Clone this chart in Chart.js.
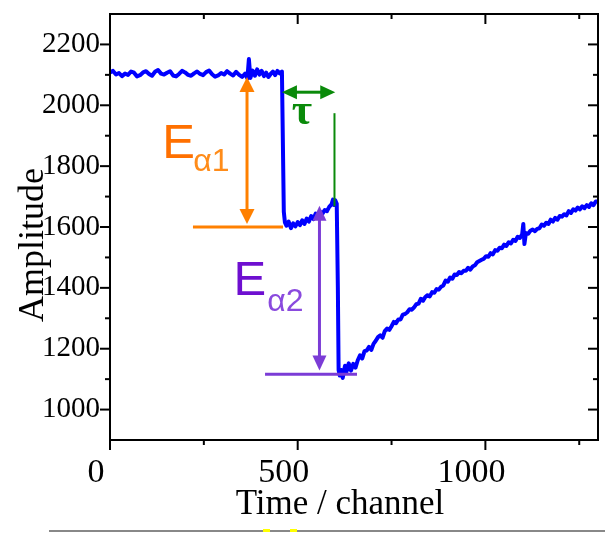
<!DOCTYPE html>
<html>
<head>
<meta charset="utf-8">
<script src="https://cdn.jsdelivr.net/npm/chart.js@4/dist/chart.umd.min.js"></script>
<style>
    body { margin: 0; background: #fff; }
    #wrap { position: relative; width: 605px; height: 533px; }
    .strip { position: absolute; top: 530px; left: 49px; width: 556px; height: 2px; background: #888; }
    .mark { position: absolute; top: 529px; width: 7px; height: 3px; background: #ffff00; }
</style>
</head>
<body>
<div id="wrap">
    <canvas id="signalChart" width="605" height="533"></canvas>
    <div class="strip"></div>
    <div class="mark" style="left:263px"></div>
    <div class="mark" style="left:290px"></div>
</div>
<script>
    const timeCh = [
        0, 8, 16, 24, 32, 40, 48, 56, 64, 72, 80, 88, 96, 104, 112, 120, 128, 136, 144, 152,
        160, 168, 176, 184, 192, 200, 208, 216, 224, 232, 240, 248, 256, 264, 272, 280, 288, 296, 304, 312,
        320, 328, 336, 344, 352, 360, 366, 370, 374, 380, 386, 392, 398, 404, 410, 416, 422, 428, 434, 440,
        446, 452, 458, 463, 466,
        470, 476, 482, 488, 494, 500, 506, 512, 518, 524, 530, 536, 542, 548, 554, 560, 566, 572, 578, 584,
        590, 594, 597, 600, 604, 607, 609,
        612, 616, 620, 626, 630, 636, 642, 648, 654, 660, 666, 672, 678, 684, 690, 696, 702, 708, 714, 720,
        726, 732, 738, 744, 750, 756, 762, 768, 774, 780, 786, 792, 798, 804, 810, 816, 822, 828, 834, 840,
        846, 852, 858, 864, 870, 876, 882, 888, 894, 900, 906, 912, 918, 924, 930, 936, 942, 948, 954, 960,
        966, 972, 978, 984, 990, 996, 1002, 1008, 1014, 1020, 1026, 1032, 1038, 1044, 1050, 1056, 1062, 1068, 1074, 1080,
        1086, 1092, 1098, 1101, 1104, 1108, 1114, 1120, 1126, 1132, 1138, 1144, 1150, 1156, 1162, 1168, 1174, 1180, 1186, 1192,
        1198, 1204, 1210, 1216, 1222, 1228, 1234, 1240, 1246, 1252, 1258, 1264, 1270, 1276, 1282, 1288, 1294, 1300
    ];
    const amplitude = [
        2108, 2113, 2101, 2106, 2096, 2104, 2100, 2111, 2107, 2095, 2099, 2108, 2112, 2103, 2097, 2110, 2116, 2104, 2101, 2107,
        2112, 2098, 2095, 2103, 2113, 2108, 2100, 2097, 2105, 2111, 2103, 2099, 2109, 2114, 2102, 2094, 2098, 2106, 2101, 2112,
        2104, 2098, 2110, 2100, 2093, 2104, 2088, 2152, 2090, 2114, 2097, 2118, 2101, 2113, 2096, 2107, 2093, 2103, 2111, 2099,
        2113, 2105, 2111, 1650, 1615,
        1604, 1618, 1596, 1612, 1602, 1616, 1606, 1622, 1610, 1628, 1618, 1636, 1626, 1644, 1638, 1650, 1644, 1656, 1652, 1666,
        1674, 1690, 1672, 1688, 1676, 1400, 1130,
        1112, 1130, 1104, 1144, 1124, 1152, 1128, 1150, 1138, 1162, 1178, 1168, 1192, 1194, 1206, 1196, 1216, 1226, 1238, 1244,
        1236, 1258, 1266, 1262, 1274, 1288, 1284, 1296, 1296, 1312, 1314, 1320, 1330, 1328, 1336, 1346, 1348, 1364, 1358, 1370,
        1376, 1372, 1386, 1384, 1396, 1394, 1404, 1408, 1424, 1420, 1434, 1430, 1444, 1442, 1452, 1448, 1456, 1456, 1466, 1460,
        1470, 1474, 1484, 1488, 1492, 1496, 1504, 1502, 1514, 1510, 1524, 1522, 1532, 1530, 1542, 1538, 1550, 1546, 1558, 1554,
        1568, 1564, 1576, 1610, 1544, 1580, 1578, 1588, 1592, 1586, 1594, 1596, 1608, 1604, 1614, 1610, 1624, 1618, 1630, 1624,
        1636, 1634, 1642, 1638, 1652, 1646, 1658, 1654, 1664, 1658, 1668, 1662, 1672, 1666, 1678, 1672, 1684, 1684
    ];

    const xMajor = [0, 500, 1000];
    const xMinor = [250, 750, 1250];
    const yMajor = [1000, 1200, 1400, 1600, 1800, 2000, 2200];
    const yMinor = [1100, 1300, 1500, 1700, 1900, 2100];

    const serif = '"Liberation Serif", "Times New Roman", serif';
    const sans = '"Liberation Sans", Arial, sans-serif';

    function line(ctx, x0, y0, x1, y1) {
        ctx.beginPath();
        ctx.moveTo(x0, y0);
        ctx.lineTo(x1, y1);
        ctx.stroke();
    }

    // filled triangle head, tip at (tx, ty), pointing along (dx, dy)
    function head(ctx, tx, ty, dx, dy, len, half) {
        const nx = -dy, ny = dx;
        ctx.beginPath();
        ctx.moveTo(tx, ty);
        ctx.lineTo(tx - dx * len + nx * half, ty - dy * len + ny * half);
        ctx.lineTo(tx - dx * len - nx * half, ty - dy * len - ny * half);
        ctx.closePath();
        ctx.fill();
    }

    const frame = {
        id: 'frame',
        afterDraw(chart) {
            const { ctx, chartArea: a, scales: { x, y } } = chart;
            ctx.save();
            ctx.strokeStyle = '#000';
            ctx.lineWidth = 2;
            ctx.strokeRect(a.left, a.top, a.right - a.left, a.bottom - a.top);
            xMajor.forEach(v => {
                const p = x.getPixelForValue(v);
                line(ctx, p, a.bottom, p, a.bottom + 10);
                line(ctx, p, a.top, p, a.top + 10);
            });
            xMinor.forEach(v => {
                const p = x.getPixelForValue(v);
                line(ctx, p, a.bottom, p, a.bottom + 5);
                line(ctx, p, a.top, p, a.top + 5);
            });
            yMajor.forEach(v => {
                const p = y.getPixelForValue(v);
                line(ctx, a.left - 10, p, a.left, p);
                line(ctx, a.right - 10, p, a.right, p);
            });
            yMinor.forEach(v => {
                const p = y.getPixelForValue(v);
                line(ctx, a.left - 5, p, a.left, p);
                line(ctx, a.right - 5, p, a.right, p);
            });

            // axis titles
            ctx.fillStyle = '#000';
            ctx.font = '35px ' + serif;
            ctx.textAlign = 'center';
            ctx.textBaseline = 'alphabetic';
            ctx.fillText('Time / channel', 340, 514);
            ctx.translate(43, 245);
            ctx.rotate(-Math.PI / 2);
            ctx.font = '36px ' + serif;
            ctx.fillText('Amplitude', 0, 0);
            ctx.restore();
        }
    };

    const notes = {
        id: 'notes',
        afterDatasetsDraw(chart) {
            const { ctx, scales: { x, y } } = chart;
            ctx.save();
            ctx.lineCap = 'butt';

            // E alpha 1 (orange)
            ctx.strokeStyle = '#ff8000';
            ctx.fillStyle = '#ff8000';
            ctx.lineWidth = 3;
            line(ctx, x.getPixelForValue(221), y.getPixelForValue(1600), x.getPixelForValue(461), y.getPixelForValue(1600));
            let px = x.getPixelForValue(365), top = y.getPixelForValue(2093), bot = y.getPixelForValue(1610);
            line(ctx, px, top + 12, px, bot - 12);
            head(ctx, px, top, 0, -1, 15, 7.5);
            head(ctx, px, bot, 0, 1, 15, 7.5);

            // tau (green)
            ctx.strokeStyle = '#0a8a0a';
            ctx.fillStyle = '#0a8a0a';
            let py = y.getPixelForValue(2043), l = x.getPixelForValue(458), r = x.getPixelForValue(600);
            line(ctx, l + 12, py, r - 12, py);
            head(ctx, l, py, -1, 0, 15, 7);
            head(ctx, r, py, 1, 0, 15, 7);
            ctx.lineWidth = 2;
            line(ctx, x.getPixelForValue(598), y.getPixelForValue(1974), x.getPixelForValue(598), y.getPixelForValue(1668));
            ctx.font = 'bold 44px ' + serif;
            ctx.textAlign = 'center';
            ctx.fillText('τ', x.getPixelForValue(511), y.getPixelForValue(1938));

            // E alpha 2 (purple)
            ctx.strokeStyle = '#7b3cd6';
            ctx.fillStyle = '#7b3cd6';
            ctx.lineWidth = 3;
            line(ctx, x.getPixelForValue(413), y.getPixelForValue(1116), x.getPixelForValue(658), y.getPixelForValue(1116));
            px = x.getPixelForValue(558); top = y.getPixelForValue(1670); bot = y.getPixelForValue(1128);
            line(ctx, px, top + 12, px, bot - 12);
            head(ctx, px, top, 0, -1, 15, 7);
            head(ctx, px, bot, 0, 1, 15, 7);

            // labels
            ctx.textAlign = 'left';
            ctx.textBaseline = 'alphabetic';
            ctx.font = '49px ' + sans;
            ctx.fillStyle = '#ff7000';
            ctx.fillText('E', x.getPixelForValue(139), y.getPixelForValue(1828));
            ctx.fillStyle = '#6e0fd0';
            ctx.fillText('E', x.getPixelForValue(329), y.getPixelForValue(1378));
            ctx.font = '32px ' + sans;
            ctx.fillStyle = '#ff8c1a';
            ctx.fillText('α1', x.getPixelForValue(222), y.getPixelForValue(1783));
            ctx.fillStyle = '#8a4ade';
            ctx.fillText('α2', x.getPixelForValue(419), y.getPixelForValue(1325));
            ctx.restore();
        }
    };

    new Chart(document.getElementById('signalChart'), {
        type: 'line',
        data: {
            datasets: [{
                data: timeCh.map((t, i) => ({ x: t, y: amplitude[i] })),
                borderColor: '#0000ff',
                borderWidth: 4,
                pointRadius: 0,
                tension: 0,
                borderJoinStyle: 'round'
            }]
        },
        options: {
            responsive: false,
            animation: false,
            layout: { padding: { top: 14, right: 7, left: 0, bottom: 0 } },
            plugins: { legend: { display: false }, tooltip: { enabled: false } },
            scales: {
                x: {
                    type: 'linear',
                    min: 0,
                    max: 1300,
                    grid: { display: false },
                    border: { display: false },
                    afterBuildTicks: s => { s.ticks = xMajor.map(v => ({ value: v })); },
                    afterFit: s => { s.height = 93; s.paddingLeft = 0; s.paddingRight = 0; },
                    ticks: {
                        color: '#000',
                        font: { family: serif, size: 34 },
                        padding: 5,
                        labelOffset: -14,
                        maxRotation: 0,
                        autoSkip: false,
                        callback: v => String(v)
                    }
                },
                y: {
                    min: 900,
                    max: 2300,
                    grid: { display: false },
                    border: { display: false },
                    afterBuildTicks: s => { s.ticks = yMajor.map(v => ({ value: v })); },
                    afterFit: s => { s.width = 110; s.paddingTop = 0; s.paddingBottom = 0; },
                    ticks: {
                        color: '#000',
                        font: { family: serif, size: 29 },
                        padding: 2,
                        autoSkip: false,
                        callback: v => String(v)
                    }
                }
            }
        },
        plugins: [notes, frame]
    });
</script>
</body>
</html>
